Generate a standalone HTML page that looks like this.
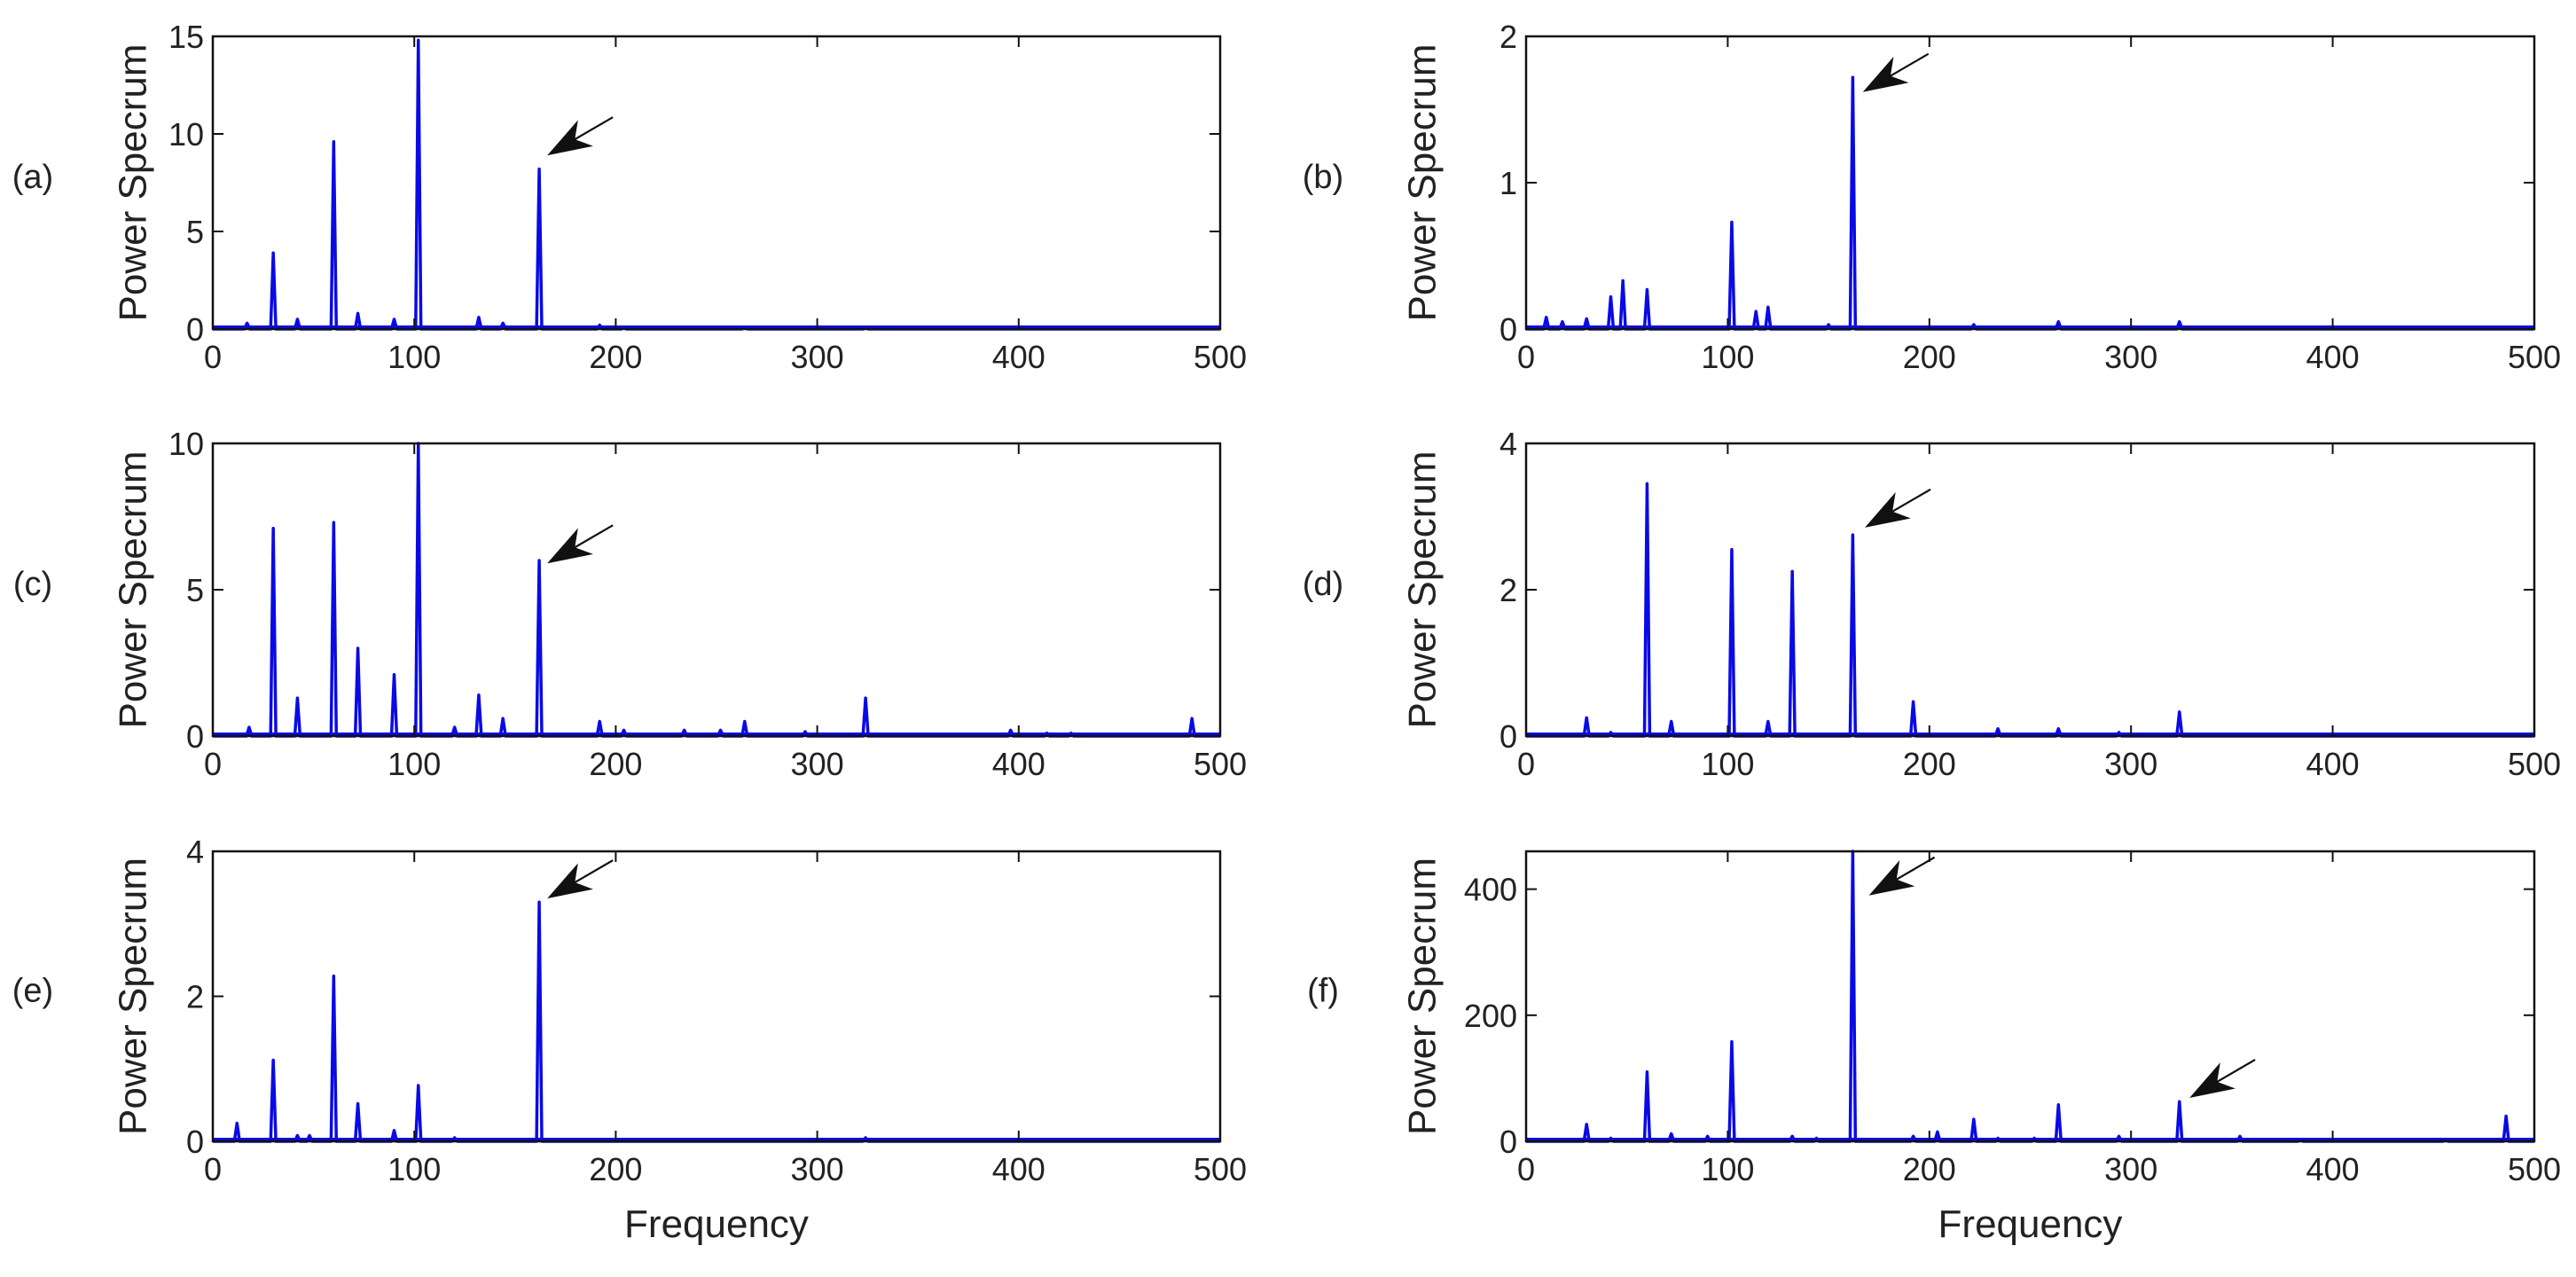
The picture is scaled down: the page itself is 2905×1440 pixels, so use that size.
<!DOCTYPE html>
<html><head><meta charset="utf-8">
<style>
html,body{margin:0;padding:0;background:#fff;}
svg{display:block;}
text{font-family:"Liberation Sans",Arial,sans-serif;fill:#222;}
</style></head>
<body>
<svg id="fig" width="2905" height="1440" viewBox="0 0 2905 1440" xmlns="http://www.w3.org/2000/svg"></svg>
<script>
// ---- data ----
const panelLabels = ["(a)","(b)","(c)","(d)","(e)","(f)"];
const yMaxes = [15, 2, 10, 4, 4, 460];
const yTicks = [[0,5,10,15],[0,1,2],[0,5,10],[0,2,4],[0,2,4],[0,200,400]];
const xTicks = [0,100,200,300,400,500];
const freqA = [17,30,42,60,72,90,102,132,144,162,192,204,264,324];
const powA  = [0.3,3.9,0.5,9.6,0.8,0.5,14.8,0.6,0.3,8.2,0.2,0.1,0.1,0.05];
const freqB = [10,18,30,42,48,60,102,114,120,150,162,222,264,324];
const powB  = [0.08,0.05,0.07,0.22,0.33,0.27,0.73,0.12,0.15,0.03,1.72,0.03,0.05,0.05];
const freqC = [18,30,42,60,72,90,102,120,132,144,162,192,204,234,252,264,294,324,396,414,426,486];
const powC  = [0.3,7.1,1.3,7.3,3.0,2.1,10,0.3,1.4,0.6,6.0,0.5,0.2,0.2,0.2,0.5,0.15,1.3,0.2,0.1,0.1,0.6];
const freqD = [30,42,60,72,102,120,132,162,192,234,264,294,324];
const powD  = [0.25,0.05,3.45,0.2,2.55,0.2,2.25,2.75,0.47,0.1,0.1,0.05,0.33];
const freqE = [12,30,42,48,60,72,90,102,120,162,324];
const powE  = [0.25,1.12,0.08,0.08,2.28,0.52,0.15,0.77,0.05,3.3,0.05];
const freqF = [30,42,60,72,90,102,132,144,162,192,204,222,234,252,264,294,324,354,384,456,486];
const powF  = [27,5,110,12,8,158,8,5,460,8,15,35,5,5,58,8,63,8,3,3,40];
// arrow tips in data coordinates [freq, value] per panel
const arrowTips = [[[166,8.9]],[[167,1.62]],[[166,5.9]],[[168,2.85]],[[166,3.35]],[[170,390],[329,69]]];

const freqs = [freqA,freqB,freqC,freqD,freqE,freqF];
const pows = [powA,powB,powC,powD,powE,powF];

const NS = "http://www.w3.org/2000/svg";
const svg = document.getElementById("fig");
function mk(tag, attrs, parent){
  const e = document.createElementNS(NS, tag);
  for (const k in attrs) e.setAttribute(k, attrs[k]);
  (parent||svg).appendChild(e);
  return e;
}
const colL = [240,1376], colR = [1721,2858];
const rows = [[41,371],[500,830],[960,1287]];
const ylabX = [150,1604];
const plabX = [37,1492];

for (let i=0;i<6;i++){
  const col = i%2, row = Math.floor(i/2);
  const [x0,x1] = col===0?colL:colR;
  const [y0,y1] = rows[row];
  const ymax = yMaxes[i];
  const xs = f => x0 + f/500*(x1-x0);
  const ys = v => y1 - v/ymax*(y1-y0);
  const g = mk("g",{});
  
  

  // baseline noise floor
  const bl = mk("line",{x1:x0,y1:y1-2,x2:x1,y2:y1-2,stroke:"#0a0ae6","stroke-width":4},g);
  
  

  // spectrum path
  let d = "M"+xs(0)+","+ys(0);
  const fr = freqs[i], pw = pows[i];
  for (let k=0;k<fr.length;k++){
    d += " L"+xs(fr[k]-1.3)+","+ys(0)+" L"+xs(fr[k])+","+ys(pw[k])+" L"+xs(fr[k]+1.3)+","+ys(0);
  }
  d += " L"+xs(500)+","+ys(0);
  const p = mk("path",{d:d,fill:"none",stroke:"#0a0ae6","stroke-width":3.5,"stroke-linejoin":"round"},g);
  
  

  // box
  const box = mk("rect",{x:x0,y:y0,width:x1-x0,height:y1-y0,fill:"none",stroke:"#111","stroke-width":2.5},g);
  
  

  // x ticks
  xTicks.forEach(t=>{
    const x = xs(t);
    mk("line",{x1:x,y1:y1,x2:x,y2:y1-12,stroke:"#111","stroke-width":2},g);
    mk("line",{x1:x,y1:y0,x2:x,y2:y0+12,stroke:"#111","stroke-width":2},g);
    const tx = mk("text",{x:x,y:y1+44,"font-size":36,"text-anchor":"middle"},g);
    tx.textContent = t;
    
    
  });
  // y ticks
  yTicks[i].forEach(t=>{
    const y = ys(t);
    mk("line",{x1:x0,y1:y,x2:x0+12,y2:y,stroke:"#111","stroke-width":2},g);
    mk("line",{x1:x1,y1:y,x2:x1-12,y2:y,stroke:"#111","stroke-width":2},g);
    const ty = mk("text",{x:x0-10,y:y+13,"font-size":36,"text-anchor":"end"},g);
    ty.textContent = t;
    
    
  });
  // y label
  const cy = (y0+y1)/2;
  const yl = mk("text",{x:ylabX[col],y:cy,"font-size":44,"text-anchor":"middle",transform:"rotate(-90 "+ylabX[col]+" "+cy+")","dominant-baseline":"central"},g);
  yl.textContent = "Power Specrum";
  
  
  // panel label
  const pl = mk("text",{x:plabX[col],y:cy-6,"font-size":38,"text-anchor":"middle","dominant-baseline":"central"},g);
  pl.textContent = panelLabels[i];
  
  
  // x label
  if (row===2){
    const xl = mk("text",{x:(x0+x1)/2,y:y1+108,"font-size":44,"text-anchor":"middle"},g);
    xl.textContent = "Frequency";
    
    
  }
  // arrows
  arrowTips[i].forEach(a=>{
    const tx = xs(a[0]), ty = ys(a[1]);
    const ag = mk("g",{},g);
    
    
    const dx = 74, dy = -43, L = Math.hypot(dx,dy), ux = dx/L, uy = dy/L;
    mk("line",{x1:tx+ux*20,y1:ty+uy*20,x2:tx+dx,y2:ty+dy,stroke:"#111","stroke-width":2.2},ag);
    const hl = 50, hw = 17;
    const bx = tx+ux*hl, by = ty+uy*hl;
    const nx = -uy, ny = ux;
    mk("polygon",{points:tx+","+ty+" "+(bx+nx*hw)+","+(by+ny*hw)+" "+(tx+ux*hl*0.72)+","+(ty+uy*hl*0.72)+" "+(bx-nx*hw)+","+(by-ny*hw),fill:"#111"},ag);
  });
}
</script>
</body></html>
